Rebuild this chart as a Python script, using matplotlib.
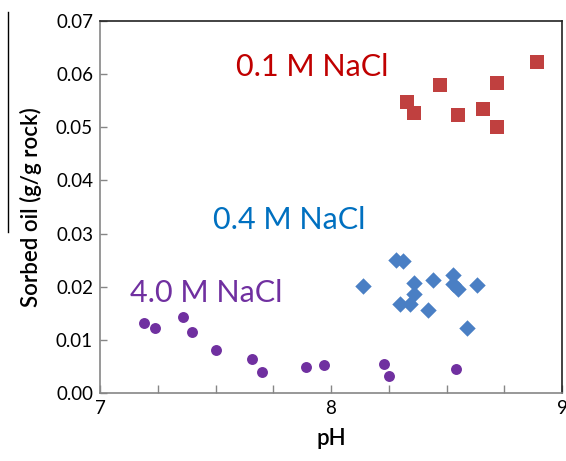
import matplotlib
matplotlib.use("Agg")
from matplotlib import pyplot as plt
from matplotlib.ticker import MultipleLocator

# 0.1 M NaCl
ph_01 = [8.33, 8.36, 8.47, 8.55, 8.66, 8.72, 8.72, 8.89]
oil_01 = [0.0547, 0.0527, 0.0579, 0.0523, 0.0534, 0.0583, 0.0500, 0.0623]

# 0.4 M NaCl
ph_04 = [8.14, 8.28, 8.31, 8.36, 8.44, 8.36, 8.30, 8.34, 8.42, 8.53, 8.53, 8.55, 8.63, 8.59]
oil_04 = [0.0201, 0.0251, 0.0248, 0.0207, 0.0212, 0.0187, 0.0168, 0.0168, 0.0157,
          0.0223, 0.0206, 0.0195, 0.0204, 0.0123]

# 4.0 M NaCl
ph_40 = [7.19, 7.24, 7.36, 7.40, 7.50, 7.66, 7.70, 7.89, 7.97, 8.23, 8.25, 8.54]
oil_40 = [0.0132, 0.0122, 0.0143, 0.0114, 0.0080, 0.0064, 0.0039, 0.0048,
          0.0052, 0.0054, 0.0032, 0.0046]

xticks = [7, 8, 9]
yticks = [0.00, 0.01, 0.02, 0.03, 0.04, 0.05, 0.06, 0.07]

plt.rcParams['font.family'] = ['Lato', 'DejaVu Sans']

fig = plt.figure(figsize=(5.66, 4.61), dpi=100)
ax = fig.add_axes([0.1767, 0.1475, 0.8163, 0.8069])

ax.scatter(ph_01, oil_01, marker='s', s=115, color='#c0403f', linewidths=0, zorder=3)
ax.scatter(ph_04, oil_04, marker='D', s=70, color='#4a7fc4', linewidths=0, zorder=3)
ax.scatter(ph_40, oil_40, marker='o', s=62, color='#7030a0', linewidths=0, zorder=3)

ax.text(7.59, 0.0596, '0.1 M NaCl', color='#c00000', fontsize=22, va='baseline')
ax.text(7.49, 0.0309, '0.4 M NaCl', color='#0070c0', fontsize=22, va='baseline')
ax.text(7.13, 0.0172, '4.0 M NaCl', color='#7030a0', fontsize=22, va='baseline')

ax.set_xlim(7, 9)
ax.set_ylim(0, 0.07)
ax.set_xticks(xticks)
ax.set_xticklabels([str(t) for t in xticks])
ax.xaxis.set_minor_locator(MultipleLocator(0.25))
ax.set_yticks(yticks)
ax.set_yticklabels(['%.2f' % t for t in yticks])

ax.tick_params(which='both', direction='in', color='#868686', length=6, width=1,
               labelsize=13.5, pad=5)
ax.tick_params(axis='y', length=5)

for side in ['left', 'bottom']:
    ax.spines[side].set_color('#868686')
for side in ['top', 'right']:
    ax.spines[side].set_color('#222222')
for s in ax.spines.values():
    s.set_linewidth(1.2)

ax.set_xlabel('pH', fontsize=16, fontweight='semibold', labelpad=8)
ax.set_ylabel('Sorbed oil (g/g rock)', fontsize=16, fontweight='semibold', labelpad=10)

# stray line left of the y label in the original picture
fig.add_artist(plt.Line2D([8 / 566, 8 / 566], [1 - 12 / 461, 1 - 232 / 461],
                          color='black', linewidth=1))

fig.savefig('out.png', dpi=100)
